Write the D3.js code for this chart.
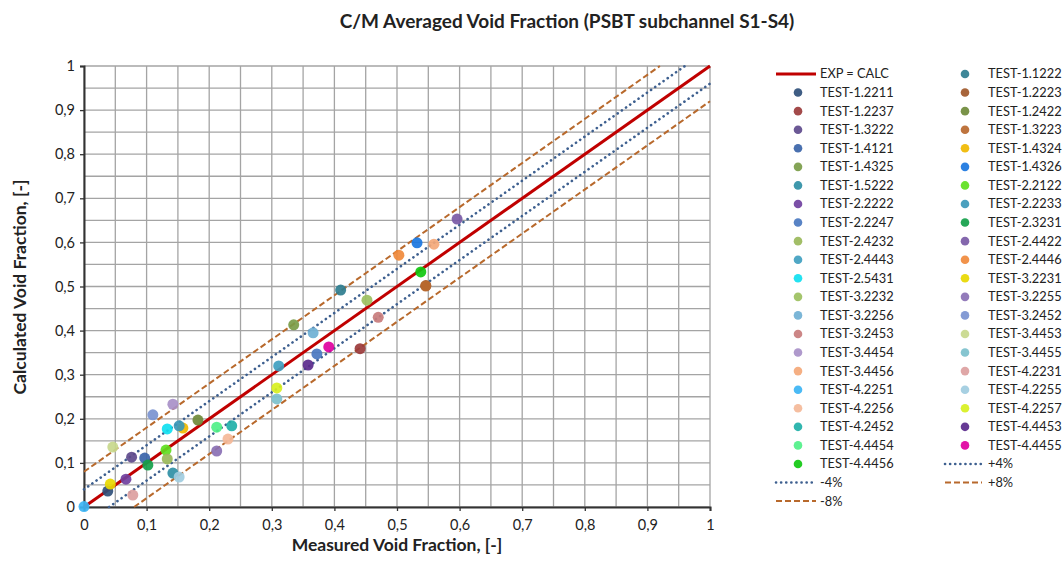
<!DOCTYPE html>
<html>
<head>
<meta charset="utf-8">
<script src="https://cdn.jsdelivr.net/npm/d3@7"></script>
<style>
  body { margin: 0; background: #fff; }
  svg text { font-family: Lato, "Open Sans", sans-serif; fill: #222; }
</style>
</head>
<body>
<div class="graf"></div>
<script>
// ---------------- data ----------------
const testNames = [
  'TEST-1.1222','TEST-1.2211','TEST-1.2223','TEST-1.2237','TEST-1.2422','TEST-1.3222','TEST-1.3223',
  'TEST-1.4121','TEST-1.4324','TEST-1.4325','TEST-1.4326','TEST-1.5222','TEST-2.2122','TEST-2.2222',
  'TEST-2.2233','TEST-2.2247','TEST-2.3231','TEST-2.4232','TEST-2.4422','TEST-2.4443','TEST-2.4446',
  'TEST-2.5431','TEST-3.2231','TEST-3.2232','TEST-3.2255','TEST-3.2256','TEST-3.2452','TEST-3.2453',
  'TEST-3.4453','TEST-3.4454','TEST-3.4455','TEST-3.4456','TEST-4.2231','TEST-4.2251','TEST-4.2255',
  'TEST-4.2256','TEST-4.2257','TEST-4.2452','TEST-4.4453','TEST-4.4454','TEST-4.4455','TEST-4.4456'
];
const measured = [
  0.410, 0.038, 0.546, 0.441, 0.182, 0.076, 0.546,
  0.097, 0.158, 0.335, 0.532, 0.142, 0.131, 0.067,
  0.152, 0.372, 0.102, 0.133, 0.596, 0.311, 0.503,
  0.133, 0.042, 0.452, 0.212, 0.366, 0.110, 0.470,
  0.046, 0.142, 0.308, 0.559, 0.078, 0.000, 0.152,
  0.230, 0.308, 0.236, 0.358, 0.212, 0.391, 0.538
];
const calculated = [
  0.492, 0.036, 0.502, 0.359, 0.197, 0.113, 0.501,
  0.111, 0.179, 0.413, 0.599, 0.077, 0.129, 0.063,
  0.184, 0.347, 0.095, 0.109, 0.653, 0.320, 0.571,
  0.177, 0.052, 0.469, 0.127, 0.395, 0.209, 0.430,
  0.136, 0.233, 0.245, 0.596, 0.027, 0.001, 0.068,
  0.154, 0.270, 0.184, 0.322, 0.181, 0.363, 0.533
];
const pointColors = [
  '#2e7d8f','#2f4f7a','#a0582a','#9b3b3b','#6f8a3a','#5e4a8c','#b8682e',
  '#3a64a8','#f0b800','#7a9c48','#1a76e0','#2f8fa5','#5ee01e','#7040a0',
  '#3c98b8','#4a78c0','#14a04a','#9ab85a','#7a5aa6','#40a0c0','#f08a3c',
  '#10e0f0','#e8d800','#9cc060','#8a70b4','#70b0d4','#7a92d0','#c87c7c',
  '#c8d88c','#a890c8','#7cc0cc','#f4a878','#dca0a0','#3cb4f4','#a0cce0',
  '#f4b898','#d8f020','#20b0a8','#5a2a8c','#50f088','#e000a0','#10c810'
];
// reference lines: [x,y] end points
const lineExpCalc = [[0, 0], [1, 1]];
const linePlus4 = [[0, 0.04], [0.96, 1]];
const lineMinus4 = [[0.04, 0], [1, 0.96]];
const linePlus8 = [[0, 0.08], [0.92, 1]];
const lineMinus8 = [[0.08, 0], [1, 0.92]];
const tickValues = [0, 0.1, 0.2, 0.3, 0.4, 0.5, 0.6, 0.7, 0.8, 0.9, 1];
const gridValues = d3.range(0, 1.0001, 0.05);

// ---------------- main ----------------
const W = 1064, H = 574;
const svg = d3.select('.graf').append('svg')
  .attr('width', W).attr('height', H);

const x = d3.scaleLinear().domain([0, 1]).range([84, 710]);
const y = d3.scaleLinear().domain([0, 1]).range([507, 66]);
const fmt = v => d3.format('.1~f')(v).replace('.', ',');

// title
svg.append('text')
  .attr('x', 567).attr('y', 28)
  .attr('text-anchor', 'middle')
  .style('font-size', '19px').style('font-weight', 'bold')
  .text('C/M Averaged Void Fraction (PSBT subchannel S1-S4)');

// grid
const grid = svg.append('g');
grid.selectAll('.gx').data(gridValues).join('line')
  .attr('x1', d => x(d)).attr('x2', d => x(d))
  .attr('y1', y(0)).attr('y2', y(1))
  .attr('stroke', '#a4a4a4').attr('stroke-width', 1.3);
grid.selectAll('.gy').data(gridValues).join('line')
  .attr('y1', d => y(d)).attr('y2', d => y(d))
  .attr('x1', x(0)).attr('x2', x(1))
  .attr('stroke', '#a4a4a4').attr('stroke-width', 1.3);

// axes
const xAxis = svg.append('g')
  .attr('transform', `translate(0,${y(0)})`)
  .call(d3.axisBottom(x).tickValues(tickValues).tickFormat(fmt).tickSize(4));
const yAxis = svg.append('g')
  .attr('transform', `translate(${x(0)},0)`)
  .call(d3.axisLeft(y).tickValues(tickValues).tickFormat(fmt).tickSize(4));
[xAxis, yAxis].forEach(a => {
  a.select('.domain').attr('stroke', '#333').attr('stroke-width', 2);
  a.selectAll('.tick line').attr('stroke', '#333').attr('stroke-width', 1.3);
  a.selectAll('.tick text').style('font-size', '14.5px').style('font-family', 'Lato, sans-serif').attr('fill', '#222');
});
xAxis.selectAll('.tick text').attr('dy', '1.1em');
yAxis.selectAll('.tick text').attr('x', -9);

// axis titles
svg.append('text')
  .attr('x', 397).attr('y', 551)
  .attr('text-anchor', 'middle')
  .style('font-size', '17.5px').style('font-weight', 'bold')
  .text('Measured Void Fraction, [-]');
svg.append('text')
  .attr('transform', `translate(26,287) rotate(-90)`)
  .attr('text-anchor', 'middle')
  .style('font-size', '17.5px').style('font-weight', 'bold')
  .text('Calculated Void Fraction, [-]');

// reference lines
const line = d3.line().x(d => x(d[0])).y(d => y(d[1]));
const dotted = { stroke: '#3d5f8f', width: 2.6, dash: '0.1 5', cap: 'round' };
const dashed = { stroke: '#b8692c', width: 2, dash: '6 3', cap: 'butt' };
const solid = { stroke: '#c00000', width: 3, dash: null, cap: 'butt' };

function drawRef(pts, st) {
  svg.append('path').datum(pts)
    .attr('d', line)
    .attr('fill', 'none')
    .attr('stroke', st.stroke)
    .attr('stroke-width', st.width)
    .attr('stroke-dasharray', st.dash)
    .attr('stroke-linecap', st.cap);
}
drawRef(linePlus8, dashed);
drawRef(lineMinus8, dashed);
drawRef(linePlus4, dotted);
drawRef(lineMinus4, dotted);
drawRef(lineExpCalc, solid);

// points
svg.append('g').selectAll('circle').data(testNames).join('circle')
  .attr('cx', (d, i) => x(measured[i]))
  .attr('cy', (d, i) => y(calculated[i]))
  .attr('r', 5.5)
  .attr('fill', (d, i) => pointColors[i])
  .attr('opacity', 0.92);

// legend
const legendItems = [{ name: 'EXP = CALC', type: 'line', st: solid }]
  .concat(testNames.map((n, i) => ({ name: n, type: 'dot', color: pointColors[i] })))
  .concat([
    { name: '+4%', type: 'line', st: dotted },
    { name: '-4%', type: 'line', st: dotted },
    { name: '+8%', type: 'line', st: dashed },
    { name: '-8%', type: 'line', st: dashed }
  ]);
const colX = [{ l1: 776, l2: 816, dot: 798, tx: 820 }, { l1: 945, l2: 982, dot: 965, tx: 988 }];
const legend = svg.append('g');
legendItems.forEach((it, i) => {
  const c = colX[i % 2];
  const ry = 74 + Math.floor(i / 2) * 18.57;
  const g = legend.append('g');
  if (it.type === 'line') {
    g.append('line')
      .attr('x1', c.l1).attr('x2', c.l2).attr('y1', ry).attr('y2', ry)
      .attr('stroke', it.st.stroke).attr('stroke-width', it.st.width)
      .attr('stroke-dasharray', it.st.dash).attr('stroke-linecap', it.st.cap);
  } else {
    g.append('circle').attr('cx', c.dot).attr('cy', ry).attr('r', 4.3)
      .attr('fill', it.color).attr('opacity', 0.92);
  }
  g.append('text').attr('x', c.tx).attr('y', ry).attr('dy', '0.35em')
    .style('font-size', '12.8px').text(it.name);
});
</script>
</body>
</html>
